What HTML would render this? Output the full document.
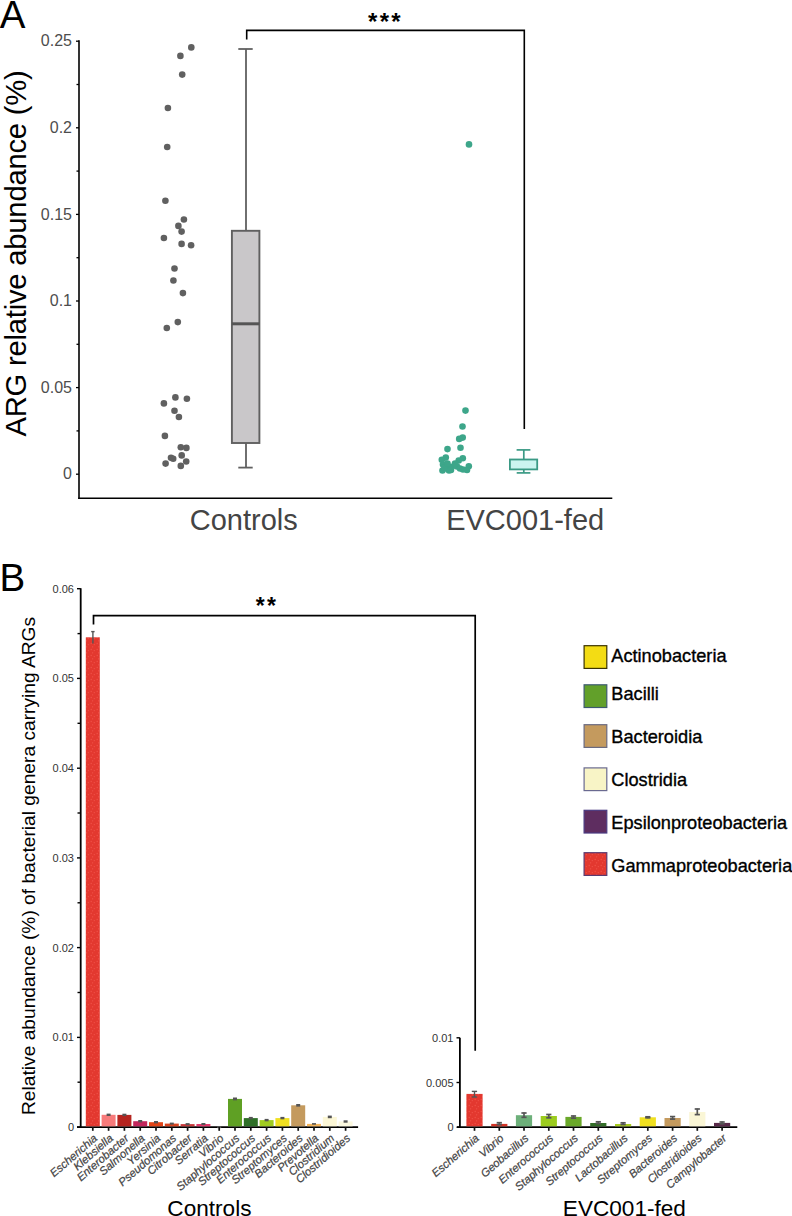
<!DOCTYPE html><html><head><meta charset="utf-8"><style>html,body{margin:0;padding:0;background:#fff;}svg{display:block;}text{font-family:"Liberation Sans",sans-serif;}</style></head><body>
<svg width="792" height="1216" viewBox="0 0 792 1216">
<defs><pattern id="rd" width="6" height="6" patternUnits="userSpaceOnUse"><rect width="6" height="6" fill="#e3382f"/><circle cx="1.2" cy="1.5" r="0.65" fill="#f05248"/><circle cx="4.3" cy="2.6" r="0.65" fill="#f05248"/><circle cx="2.6" cy="4.8" r="0.65" fill="#f05248"/></pattern></defs>
<text x="-0.2" y="27.7" font-size="38.5" fill="#000">A</text>
<line x1="79.0" y1="40.2" x2="79.0" y2="499" stroke="#000" stroke-width="1.6"/>
<line x1="78.2" y1="498.2" x2="612.3" y2="498.2" stroke="#000" stroke-width="1.6"/>
<line x1="76" y1="474.2" x2="79.0" y2="474.2" stroke="#000" stroke-width="1.3"/>
<text x="72" y="479.3" font-size="16" fill="#4d4d4d" text-anchor="end">0</text>
<line x1="76.5" y1="430.9" x2="79.0" y2="430.9" stroke="#000" stroke-width="1.3"/>
<line x1="76" y1="387.6" x2="79.0" y2="387.6" stroke="#000" stroke-width="1.3"/>
<text x="72" y="392.7" font-size="16" fill="#4d4d4d" text-anchor="end">0.05</text>
<line x1="76.5" y1="344.3" x2="79.0" y2="344.3" stroke="#000" stroke-width="1.3"/>
<line x1="76" y1="301.0" x2="79.0" y2="301.0" stroke="#000" stroke-width="1.3"/>
<text x="72" y="306.1" font-size="16" fill="#4d4d4d" text-anchor="end">0.1</text>
<line x1="76.5" y1="257.7" x2="79.0" y2="257.7" stroke="#000" stroke-width="1.3"/>
<line x1="76" y1="214.4" x2="79.0" y2="214.4" stroke="#000" stroke-width="1.3"/>
<text x="72" y="219.5" font-size="16" fill="#4d4d4d" text-anchor="end">0.15</text>
<line x1="76.5" y1="171.1" x2="79.0" y2="171.1" stroke="#000" stroke-width="1.3"/>
<line x1="76" y1="127.8" x2="79.0" y2="127.8" stroke="#000" stroke-width="1.3"/>
<text x="72" y="132.9" font-size="16" fill="#4d4d4d" text-anchor="end">0.2</text>
<line x1="76.5" y1="84.5" x2="79.0" y2="84.5" stroke="#000" stroke-width="1.3"/>
<line x1="76" y1="41.2" x2="79.0" y2="41.2" stroke="#000" stroke-width="1.3"/>
<text x="72" y="46.3" font-size="16" fill="#4d4d4d" text-anchor="end">0.25</text>
<text transform="translate(26.2,436.6) rotate(-90)" font-size="29.2" textLength="366.4" lengthAdjust="spacing" fill="#000">ARG relative abundance (%)</text>
<text x="243.8" y="530.3" font-size="29" fill="#444" text-anchor="middle">Controls</text>
<text x="525.2" y="530.3" font-size="29" fill="#444" text-anchor="middle">EVC001-fed</text>
<circle cx="191.3" cy="47.4" r="3.3" fill="#606060"/>
<circle cx="180.4" cy="55.9" r="3.3" fill="#606060"/>
<circle cx="182.2" cy="74.6" r="3.3" fill="#606060"/>
<circle cx="167.9" cy="108" r="3.3" fill="#606060"/>
<circle cx="167.2" cy="147" r="3.3" fill="#606060"/>
<circle cx="165.4" cy="200.7" r="3.3" fill="#606060"/>
<circle cx="183.9" cy="219.5" r="3.3" fill="#606060"/>
<circle cx="178.4" cy="225.9" r="3.3" fill="#606060"/>
<circle cx="181.6" cy="231.6" r="3.3" fill="#606060"/>
<circle cx="163.9" cy="238" r="3.3" fill="#606060"/>
<circle cx="181.6" cy="243.9" r="3.3" fill="#606060"/>
<circle cx="191.1" cy="245.3" r="3.3" fill="#606060"/>
<circle cx="174.5" cy="268.5" r="3.3" fill="#606060"/>
<circle cx="173.4" cy="280.5" r="3.3" fill="#606060"/>
<circle cx="182.9" cy="293.1" r="3.3" fill="#606060"/>
<circle cx="177.8" cy="322.1" r="3.3" fill="#606060"/>
<circle cx="166.8" cy="328" r="3.3" fill="#606060"/>
<circle cx="175.4" cy="397.4" r="3.3" fill="#606060"/>
<circle cx="186.9" cy="398.8" r="3.3" fill="#606060"/>
<circle cx="163.9" cy="403.4" r="3.3" fill="#606060"/>
<circle cx="174.5" cy="410.8" r="3.3" fill="#606060"/>
<circle cx="178.9" cy="417" r="3.3" fill="#606060"/>
<circle cx="164.9" cy="435.9" r="3.3" fill="#606060"/>
<circle cx="180.8" cy="447.2" r="3.3" fill="#606060"/>
<circle cx="186.4" cy="447.9" r="3.3" fill="#606060"/>
<circle cx="181.7" cy="455.4" r="3.3" fill="#606060"/>
<circle cx="171" cy="457.8" r="3.3" fill="#606060"/>
<circle cx="173.2" cy="458.7" r="3.3" fill="#606060"/>
<circle cx="186.2" cy="461.5" r="3.3" fill="#606060"/>
<circle cx="165.6" cy="463.6" r="3.3" fill="#606060"/>
<circle cx="180.8" cy="465.9" r="3.3" fill="#606060"/>
<g stroke="#606060" stroke-width="1.8" fill="none">
<line x1="246" y1="49" x2="246" y2="231"/>
<line x1="238.3" y1="49" x2="252.7" y2="49"/>
<line x1="246" y1="443" x2="246" y2="467.6"/>
<line x1="238.3" y1="467.6" x2="252.7" y2="467.6"/>
</g>
<rect x="231.9" y="230.8" width="27.5" height="212.2" fill="#c9c7c9" stroke="#606060" stroke-width="1.9"/>
<line x1="232" y1="323.8" x2="259.4" y2="323.8" stroke="#555" stroke-width="3"/>
<circle cx="469.0" cy="144.4" r="3.3" fill="#3da68a"/>
<circle cx="465.5" cy="410.6" r="3.3" fill="#3da68a"/>
<circle cx="462.5" cy="426.5" r="3.3" fill="#3da68a"/>
<circle cx="462.7" cy="437.6" r="3.3" fill="#3da68a"/>
<circle cx="459.2" cy="438.9" r="3.3" fill="#3da68a"/>
<circle cx="447.5" cy="449.1" r="3.3" fill="#3da68a"/>
<circle cx="460.5" cy="447.7" r="3.3" fill="#3da68a"/>
<circle cx="445.8" cy="457.6" r="3.3" fill="#3da68a"/>
<circle cx="441.8" cy="459.8" r="3.3" fill="#3da68a"/>
<circle cx="462.8" cy="458.2" r="3.3" fill="#3da68a"/>
<circle cx="458.7" cy="460.5" r="3.3" fill="#3da68a"/>
<circle cx="468.8" cy="466.2" r="3.3" fill="#3da68a"/>
<circle cx="467.0" cy="470.0" r="3.3" fill="#3da68a"/>
<circle cx="443" cy="464.5" r="3.3" fill="#3da68a"/>
<circle cx="442.5" cy="470.5" r="3.3" fill="#3da68a"/>
<circle cx="446.5" cy="468.5" r="3.3" fill="#3da68a"/>
<circle cx="450.5" cy="467" r="3.3" fill="#3da68a"/>
<circle cx="454.5" cy="465.5" r="3.3" fill="#3da68a"/>
<circle cx="457" cy="466.5" r="3.3" fill="#3da68a"/>
<circle cx="460" cy="468.5" r="3.3" fill="#3da68a"/>
<circle cx="463" cy="469.5" r="3.3" fill="#3da68a"/>
<circle cx="449" cy="470.5" r="3.3" fill="#3da68a"/>
<circle cx="455" cy="463.5" r="3.3" fill="#3da68a"/>
<circle cx="444.5" cy="467.5" r="3.3" fill="#3da68a"/>
<circle cx="447.5" cy="463.5" r="3.3" fill="#3da68a"/>
<circle cx="451" cy="470" r="3.3" fill="#3da68a"/>
<g stroke="#3b9a85" stroke-width="1.7" fill="none">
<line x1="523.8" y1="449.9" x2="523.8" y2="459.5"/>
<line x1="516.6" y1="449.9" x2="530.4" y2="449.9"/>
<line x1="523.8" y1="469.4" x2="523.8" y2="472.9"/>
<line x1="516.7" y1="472.9" x2="530.4" y2="472.9"/>
</g>
<rect x="509.9" y="459.5" width="27.3" height="9.9" fill="#ccf5f0" stroke="#3b9a85" stroke-width="1.8"/>
<path d="M246.7 39.4 V30.4 H524.3 V429" fill="none" stroke="#000" stroke-width="1.6"/>
<text x="372.7" y="29.7" font-size="24" font-weight="bold" fill="#000" text-anchor="middle">*</text>
<text x="384.3" y="29.7" font-size="24" font-weight="bold" fill="#000" text-anchor="middle">*</text>
<text x="395.9" y="29.7" font-size="24" font-weight="bold" fill="#000" text-anchor="middle">*</text>
<text x="-0.6" y="591" font-size="38.5" fill="#000">B</text>
<line x1="80.7" y1="588.3" x2="80.7" y2="1128" stroke="#000" stroke-width="1.8"/>
<line x1="77" y1="1127.1" x2="358.1" y2="1127.1" stroke="#000" stroke-width="1.8"/>
<line x1="77" y1="1127.1" x2="80.7" y2="1127.1" stroke="#000" stroke-width="1.4"/>
<text x="74" y="1131.1" font-size="11" fill="#333" text-anchor="end">0</text>
<line x1="77.5" y1="1082.2" x2="80.7" y2="1082.2" stroke="#000" stroke-width="1.4"/>
<line x1="77" y1="1037.4" x2="80.7" y2="1037.4" stroke="#000" stroke-width="1.4"/>
<text x="74" y="1041.4" font-size="11" fill="#333" text-anchor="end">0.01</text>
<line x1="77.5" y1="992.5" x2="80.7" y2="992.5" stroke="#000" stroke-width="1.4"/>
<line x1="77" y1="947.6" x2="80.7" y2="947.6" stroke="#000" stroke-width="1.4"/>
<text x="74" y="951.6" font-size="11" fill="#333" text-anchor="end">0.02</text>
<line x1="77.5" y1="902.8" x2="80.7" y2="902.8" stroke="#000" stroke-width="1.4"/>
<line x1="77" y1="857.9" x2="80.7" y2="857.9" stroke="#000" stroke-width="1.4"/>
<text x="74" y="861.9" font-size="11" fill="#333" text-anchor="end">0.03</text>
<line x1="77.5" y1="813.0" x2="80.7" y2="813.0" stroke="#000" stroke-width="1.4"/>
<line x1="77" y1="768.2" x2="80.7" y2="768.2" stroke="#000" stroke-width="1.4"/>
<text x="74" y="772.2" font-size="11" fill="#333" text-anchor="end">0.04</text>
<line x1="77.5" y1="723.3" x2="80.7" y2="723.3" stroke="#000" stroke-width="1.4"/>
<line x1="77" y1="678.4" x2="80.7" y2="678.4" stroke="#000" stroke-width="1.4"/>
<text x="74" y="682.4" font-size="11" fill="#333" text-anchor="end">0.05</text>
<line x1="77.5" y1="633.6" x2="80.7" y2="633.6" stroke="#000" stroke-width="1.4"/>
<line x1="77" y1="588.7" x2="80.7" y2="588.7" stroke="#000" stroke-width="1.4"/>
<text x="74" y="592.7" font-size="11" fill="#333" text-anchor="end">0.06</text>
<text transform="translate(34.6,1115) rotate(-90)" font-size="19.2" fill="#000">Relative abundance (%) of bacterial genera carrying ARGs</text>
<rect x="85.8" y="637.3" width="14.0" height="489.0" fill="url(#rd)"/>
<line x1="92.8" y1="1127" x2="92.8" y2="1130.8" stroke="#111" stroke-width="1.7"/>
<text transform="translate(98.1,1139.3) rotate(-41)" font-size="11.3" font-style="italic" fill="#444" stroke="#444" stroke-width="0.22" text-anchor="end">Escherichia</text>
<rect x="101.6" y="1114.8" width="14.0" height="11.5" fill="#f77b7b"/>
<rect x="106.6" y="1113.6" width="4" height="2.4" fill="#555"/>
<line x1="108.6" y1="1127" x2="108.6" y2="1130.8" stroke="#111" stroke-width="1.7"/>
<text transform="translate(113.9,1139.3) rotate(-41)" font-size="11.3" font-style="italic" fill="#444" stroke="#444" stroke-width="0.22" text-anchor="end">Klebsiella</text>
<rect x="117.4" y="1114.9" width="14.0" height="11.4" fill="#b5241f"/>
<rect x="122.4" y="1113.7" width="4" height="2.4" fill="#555"/>
<line x1="124.4" y1="1127" x2="124.4" y2="1130.8" stroke="#111" stroke-width="1.7"/>
<text transform="translate(129.7,1139.3) rotate(-41)" font-size="11.3" font-style="italic" fill="#444" stroke="#444" stroke-width="0.22" text-anchor="end">Enterobacter</text>
<rect x="133.2" y="1121.2" width="14.0" height="5.1" fill="#c4265c"/>
<rect x="138.2" y="1120.0" width="4" height="2.4" fill="#555"/>
<line x1="140.2" y1="1127" x2="140.2" y2="1130.8" stroke="#111" stroke-width="1.7"/>
<text transform="translate(145.5,1139.3) rotate(-41)" font-size="11.3" font-style="italic" fill="#444" stroke="#444" stroke-width="0.22" text-anchor="end">Salmonella</text>
<rect x="149.0" y="1122.2" width="14.0" height="4.1" fill="#e24417"/>
<rect x="154.0" y="1121.0" width="4" height="2.4" fill="#555"/>
<line x1="156.0" y1="1127" x2="156.0" y2="1130.8" stroke="#111" stroke-width="1.7"/>
<text transform="translate(161.3,1139.3) rotate(-41)" font-size="11.3" font-style="italic" fill="#444" stroke="#444" stroke-width="0.22" text-anchor="end">Yersinia</text>
<rect x="164.8" y="1123.6" width="14.0" height="2.7" fill="#d8421e"/>
<rect x="169.8" y="1122.6" width="4" height="2.0" fill="#555"/>
<line x1="171.8" y1="1127" x2="171.8" y2="1130.8" stroke="#111" stroke-width="1.7"/>
<text transform="translate(177.1,1139.3) rotate(-41)" font-size="11.3" font-style="italic" fill="#444" stroke="#444" stroke-width="0.22" text-anchor="end">Pseudomonas</text>
<rect x="180.6" y="1124.1" width="14.0" height="2.2" fill="#c9383a"/>
<rect x="185.6" y="1123.1" width="4" height="2.0" fill="#555"/>
<line x1="187.6" y1="1127" x2="187.6" y2="1130.8" stroke="#111" stroke-width="1.7"/>
<text transform="translate(192.9,1139.3) rotate(-41)" font-size="11.3" font-style="italic" fill="#444" stroke="#444" stroke-width="0.22" text-anchor="end">Citrobacter</text>
<rect x="196.4" y="1124.0" width="14.0" height="2.3" fill="#e0376a"/>
<rect x="201.4" y="1123.0" width="4" height="2.0" fill="#555"/>
<line x1="203.4" y1="1127" x2="203.4" y2="1130.8" stroke="#111" stroke-width="1.7"/>
<text transform="translate(208.7,1139.3) rotate(-41)" font-size="11.3" font-style="italic" fill="#444" stroke="#444" stroke-width="0.22" text-anchor="end">Serratia</text>
<rect x="212.2" y="1127.1" width="14.0" height="0.0" fill="#c03030"/>
<rect x="217.2" y="1126.1" width="4" height="2.0" fill="#555"/>
<line x1="219.2" y1="1127" x2="219.2" y2="1130.8" stroke="#111" stroke-width="1.7"/>
<text transform="translate(224.5,1139.3) rotate(-41)" font-size="11.3" font-style="italic" fill="#444" stroke="#444" stroke-width="0.22" text-anchor="end">Vibrio</text>
<rect x="228.0" y="1098.9" width="14.0" height="27.4" fill="#5fa024"/>
<rect x="233.0" y="1097.5" width="4" height="2.8" fill="#555"/>
<line x1="235.0" y1="1127" x2="235.0" y2="1130.8" stroke="#111" stroke-width="1.7"/>
<text transform="translate(240.3,1139.3) rotate(-41)" font-size="11.3" font-style="italic" fill="#444" stroke="#444" stroke-width="0.22" text-anchor="end">Staphylococcus</text>
<rect x="243.8" y="1118.1" width="14.0" height="8.2" fill="#2f7028"/>
<rect x="248.8" y="1116.9" width="4" height="2.4" fill="#555"/>
<line x1="250.8" y1="1127" x2="250.8" y2="1130.8" stroke="#111" stroke-width="1.7"/>
<text transform="translate(256.1,1139.3) rotate(-41)" font-size="11.3" font-style="italic" fill="#444" stroke="#444" stroke-width="0.22" text-anchor="end">Streptococcus</text>
<rect x="259.6" y="1120.1" width="14.0" height="6.2" fill="#a0cc20"/>
<rect x="264.6" y="1118.9" width="4" height="2.4" fill="#555"/>
<line x1="266.6" y1="1127" x2="266.6" y2="1130.8" stroke="#111" stroke-width="1.7"/>
<text transform="translate(271.9,1139.3) rotate(-41)" font-size="11.3" font-style="italic" fill="#444" stroke="#444" stroke-width="0.22" text-anchor="end">Enterococcus</text>
<rect x="275.4" y="1118.1" width="14.0" height="8.2" fill="#f0e020"/>
<rect x="280.4" y="1116.9" width="4" height="2.4" fill="#555"/>
<line x1="282.4" y1="1127" x2="282.4" y2="1130.8" stroke="#111" stroke-width="1.7"/>
<text transform="translate(287.7,1139.3) rotate(-41)" font-size="11.3" font-style="italic" fill="#444" stroke="#444" stroke-width="0.22" text-anchor="end">Streptomyces</text>
<rect x="291.2" y="1105.3" width="14.0" height="21.0" fill="#c49a5e"/>
<rect x="296.2" y="1104.0" width="4" height="2.6" fill="#555"/>
<line x1="298.2" y1="1127" x2="298.2" y2="1130.8" stroke="#111" stroke-width="1.7"/>
<text transform="translate(303.5,1139.3) rotate(-41)" font-size="11.3" font-style="italic" fill="#444" stroke="#444" stroke-width="0.22" text-anchor="end">Bacteroides</text>
<rect x="307.0" y="1123.9" width="14.0" height="2.4" fill="#f2b45a"/>
<rect x="312.0" y="1123.1" width="4" height="1.6" fill="#555"/>
<line x1="314.0" y1="1127" x2="314.0" y2="1130.8" stroke="#111" stroke-width="1.7"/>
<text transform="translate(319.3,1139.3) rotate(-41)" font-size="11.3" font-style="italic" fill="#444" stroke="#444" stroke-width="0.22" text-anchor="end">Prevotella</text>
<rect x="322.8" y="1116.9" width="14.0" height="9.4" fill="#fcf7d6"/>
<rect x="327.8" y="1115.6" width="4" height="2.6" fill="#555"/>
<line x1="329.8" y1="1127" x2="329.8" y2="1130.8" stroke="#111" stroke-width="1.7"/>
<text transform="translate(335.1,1139.3) rotate(-41)" font-size="11.3" font-style="italic" fill="#444" stroke="#444" stroke-width="0.22" text-anchor="end">Clostridium</text>
<rect x="338.6" y="1121.5" width="14.0" height="4.8" fill="#fcf9e0"/>
<rect x="343.6" y="1120.3" width="4" height="2.4" fill="#555"/>
<line x1="345.6" y1="1127" x2="345.6" y2="1130.8" stroke="#111" stroke-width="1.7"/>
<text transform="translate(350.9,1139.3) rotate(-41)" font-size="11.3" font-style="italic" fill="#444" stroke="#444" stroke-width="0.22" text-anchor="end">Clostridioides</text>
<g stroke="#555" stroke-width="1.4"><line x1="92.9" y1="631.6" x2="92.9" y2="643.5"/><line x1="91.2" y1="631.6" x2="94.6" y2="631.6"/></g>
<line x1="459.9" y1="1037.8" x2="459.9" y2="1128" stroke="#000" stroke-width="1.8"/>
<line x1="457" y1="1127.2" x2="737.3" y2="1127.2" stroke="#000" stroke-width="1.8"/>
<line x1="456.5" y1="1127.2" x2="459.9" y2="1127.2" stroke="#000" stroke-width="1.4"/>
<text x="453.5" y="1131.2" font-size="11" fill="#333" text-anchor="end">0</text>
<line x1="456.5" y1="1082.5" x2="459.9" y2="1082.5" stroke="#000" stroke-width="1.4"/>
<text x="453.5" y="1086.5" font-size="11" fill="#333" text-anchor="end">0.005</text>
<line x1="456.5" y1="1037.8" x2="459.9" y2="1037.8" stroke="#000" stroke-width="1.4"/>
<text x="453.5" y="1041.8" font-size="11" fill="#333" text-anchor="end">0.01</text>
<rect x="466.4" y="1093.9" width="16.2" height="32.4" fill="url(#rd)"/>
<line x1="474.5" y1="1127" x2="474.5" y2="1130.8" stroke="#111" stroke-width="1.7"/>
<text transform="translate(479.8,1139.3) rotate(-41)" font-size="11.3" font-style="italic" fill="#444" stroke="#444" stroke-width="0.22" text-anchor="end">Escherichia</text>
<rect x="491.2" y="1123.9" width="16.2" height="2.4" fill="#d43426"/>
<g stroke="#555" stroke-width="1.7"><line x1="499.3" y1="1122.3" x2="499.3" y2="1125"/><line x1="496.7" y1="1122.7" x2="501.9" y2="1122.7"/><line x1="496.7" y1="1124.6" x2="501.9" y2="1124.6"/></g>
<line x1="499.3" y1="1127" x2="499.3" y2="1130.8" stroke="#111" stroke-width="1.7"/>
<text transform="translate(504.6,1139.3) rotate(-41)" font-size="11.3" font-style="italic" fill="#444" stroke="#444" stroke-width="0.22" text-anchor="end">Vibrio</text>
<rect x="515.9" y="1115.2" width="16.2" height="11.1" fill="#6db07a"/>
<g stroke="#555" stroke-width="1.7"><line x1="524.0" y1="1112.6" x2="524.0" y2="1117.7"/><line x1="521.4" y1="1113.0" x2="526.6" y2="1113.0"/><line x1="521.4" y1="1117.3" x2="526.6" y2="1117.3"/></g>
<line x1="524.0" y1="1127" x2="524.0" y2="1130.8" stroke="#111" stroke-width="1.7"/>
<text transform="translate(529.3,1139.3) rotate(-41)" font-size="11.3" font-style="italic" fill="#444" stroke="#444" stroke-width="0.22" text-anchor="end">Geobacillus</text>
<rect x="540.7" y="1116.0" width="16.2" height="10.3" fill="#9ccc1e"/>
<g stroke="#555" stroke-width="1.7"><line x1="548.8" y1="1114.1" x2="548.8" y2="1118.2"/><line x1="546.2" y1="1114.5" x2="551.4" y2="1114.5"/><line x1="546.2" y1="1117.8" x2="551.4" y2="1117.8"/></g>
<line x1="548.8" y1="1127" x2="548.8" y2="1130.8" stroke="#111" stroke-width="1.7"/>
<text transform="translate(554.1,1139.3) rotate(-41)" font-size="11.3" font-style="italic" fill="#444" stroke="#444" stroke-width="0.22" text-anchor="end">Enterococcus</text>
<rect x="565.4" y="1116.9" width="16.2" height="9.4" fill="#6aa82a"/>
<g stroke="#555" stroke-width="1.7"><line x1="573.5" y1="1115.6" x2="573.5" y2="1118.6"/><line x1="570.9" y1="1116.0" x2="576.1" y2="1116.0"/><line x1="570.9" y1="1118.1999999999998" x2="576.1" y2="1118.1999999999998"/></g>
<line x1="573.5" y1="1127" x2="573.5" y2="1130.8" stroke="#111" stroke-width="1.7"/>
<text transform="translate(578.8,1139.3) rotate(-41)" font-size="11.3" font-style="italic" fill="#444" stroke="#444" stroke-width="0.22" text-anchor="end">Staphylococcus</text>
<rect x="590.2" y="1123.0" width="16.2" height="3.3" fill="#336e28"/>
<g stroke="#555" stroke-width="1.7"><line x1="598.3" y1="1121.4" x2="598.3" y2="1123.9"/><line x1="595.7" y1="1121.8000000000002" x2="600.9" y2="1121.8000000000002"/><line x1="595.7" y1="1123.5" x2="600.9" y2="1123.5"/></g>
<line x1="598.3" y1="1127" x2="598.3" y2="1130.8" stroke="#111" stroke-width="1.7"/>
<text transform="translate(603.6,1139.3) rotate(-41)" font-size="11.3" font-style="italic" fill="#444" stroke="#444" stroke-width="0.22" text-anchor="end">Streptococcus</text>
<rect x="615.0" y="1124.0" width="16.2" height="2.3" fill="#a8cc20"/>
<g stroke="#555" stroke-width="1.7"><line x1="623.1" y1="1122.4" x2="623.1" y2="1124.9"/><line x1="620.5" y1="1122.8000000000002" x2="625.7" y2="1122.8000000000002"/><line x1="620.5" y1="1124.5" x2="625.7" y2="1124.5"/></g>
<line x1="623.1" y1="1127" x2="623.1" y2="1130.8" stroke="#111" stroke-width="1.7"/>
<text transform="translate(628.4,1139.3) rotate(-41)" font-size="11.3" font-style="italic" fill="#444" stroke="#444" stroke-width="0.22" text-anchor="end">Lactobacillus</text>
<rect x="639.7" y="1117.3" width="16.2" height="9.0" fill="#f0e020"/>
<g stroke="#555" stroke-width="1.7"><line x1="647.8" y1="1116.4" x2="647.8" y2="1118.2"/><line x1="645.2" y1="1116.8000000000002" x2="650.4" y2="1116.8000000000002"/><line x1="645.2" y1="1117.8" x2="650.4" y2="1117.8"/></g>
<line x1="647.8" y1="1127" x2="647.8" y2="1130.8" stroke="#111" stroke-width="1.7"/>
<text transform="translate(653.1,1139.3) rotate(-41)" font-size="11.3" font-style="italic" fill="#444" stroke="#444" stroke-width="0.22" text-anchor="end">Streptomyces</text>
<rect x="664.5" y="1118.0" width="16.2" height="8.3" fill="#c49a5e"/>
<g stroke="#555" stroke-width="1.7"><line x1="672.6" y1="1116.2" x2="672.6" y2="1119.5"/><line x1="670.0" y1="1116.6000000000001" x2="675.2" y2="1116.6000000000001"/><line x1="670.0" y1="1119.1" x2="675.2" y2="1119.1"/></g>
<line x1="672.6" y1="1127" x2="672.6" y2="1130.8" stroke="#111" stroke-width="1.7"/>
<text transform="translate(677.9,1139.3) rotate(-41)" font-size="11.3" font-style="italic" fill="#444" stroke="#444" stroke-width="0.22" text-anchor="end">Bacteroides</text>
<rect x="689.2" y="1112.0" width="16.2" height="14.3" fill="#faf6d6"/>
<g stroke="#555" stroke-width="1.7"><line x1="697.3" y1="1108.6" x2="697.3" y2="1115"/><line x1="694.7" y1="1109.0" x2="699.9" y2="1109.0"/><line x1="694.7" y1="1114.6" x2="699.9" y2="1114.6"/></g>
<line x1="697.3" y1="1127" x2="697.3" y2="1130.8" stroke="#111" stroke-width="1.7"/>
<text transform="translate(702.6,1139.3) rotate(-41)" font-size="11.3" font-style="italic" fill="#444" stroke="#444" stroke-width="0.22" text-anchor="end">Clostridioides</text>
<rect x="714.0" y="1122.9" width="16.2" height="3.4" fill="#5a2a4a"/>
<g stroke="#555" stroke-width="1.7"><line x1="722.1" y1="1121.6" x2="722.1" y2="1124.2"/><line x1="719.5" y1="1122.0" x2="724.7" y2="1122.0"/><line x1="719.5" y1="1123.8" x2="724.7" y2="1123.8"/></g>
<line x1="722.1" y1="1127" x2="722.1" y2="1130.8" stroke="#111" stroke-width="1.7"/>
<text transform="translate(727.4,1139.3) rotate(-41)" font-size="11.3" font-style="italic" fill="#444" stroke="#444" stroke-width="0.22" text-anchor="end">Campylobacter</text>
<g stroke="#555" stroke-width="1.4"><line x1="474.5" y1="1091.4" x2="474.5" y2="1097"/><line x1="471.8" y1="1091.4" x2="477.1" y2="1091.4"/><line x1="471.8" y1="1097" x2="477.1" y2="1097"/></g>
<path d="M93.5 624.5 V615.6 H475.2 V1050.7" fill="none" stroke="#000" stroke-width="1.7"/>
<text x="260.3" y="613.6" font-size="23" font-weight="bold" fill="#000" text-anchor="middle">*</text>
<text x="271.6" y="613.6" font-size="23" font-weight="bold" fill="#000" text-anchor="middle">*</text>
<rect x="584.1" y="645.7" width="22.7" height="22.7" fill="#f3dc14" stroke="#3a3200" stroke-width="1.2"/>
<text x="611.3" y="661.7" font-size="18.2" fill="#000" stroke="#000" stroke-width="0.35">Actinobacteria</text>
<rect x="584.1" y="684.8" width="22.7" height="22.7" fill="#62a02a" stroke="#3d5a70" stroke-width="1.2"/>
<text x="611.3" y="700.2" font-size="18.2" fill="#000" stroke="#000" stroke-width="0.35">Bacilli</text>
<rect x="584.1" y="724.7" width="22.7" height="22.7" fill="#c49a5e" stroke="#6a6a80" stroke-width="1.2"/>
<text x="611.3" y="742.7" font-size="18.2" fill="#000" stroke="#000" stroke-width="0.35">Bacteroidia</text>
<rect x="584.1" y="767.9" width="22.7" height="22.7" fill="#f8f4c6" stroke="#6a6a90" stroke-width="1.2"/>
<text x="611.3" y="785.5" font-size="18.2" fill="#000" stroke="#000" stroke-width="0.35">Clostridia</text>
<rect x="584.1" y="810.3" width="22.7" height="22.7" fill="#5e2d60" stroke="#4a3a80" stroke-width="1.2"/>
<text x="611.3" y="829.3" font-size="18.2" fill="#000" stroke="#000" stroke-width="0.35">Epsilonproteobacteria</text>
<rect x="584.1" y="852.7" width="22.7" height="22.7" fill="url(#rd)" stroke="#5a3a70" stroke-width="1.2"/>
<text x="611.3" y="871.5" font-size="18.2" fill="#000" stroke="#000" stroke-width="0.35">Gammaproteobacteria</text>
<text x="209.4" y="1216.2" font-size="22.6" fill="#000" text-anchor="middle">Controls</text>
<text x="624.4" y="1216.2" font-size="22.6" fill="#000" text-anchor="middle">EVC001-fed</text>
</svg></body></html>
